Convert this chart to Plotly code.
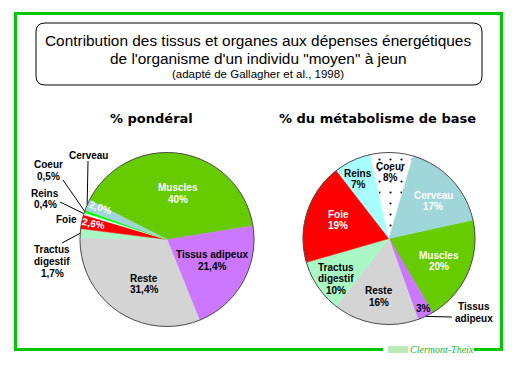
import math
import plotly.graph_objects as go

# ---------------- data ----------------
categories = ["Muscles", "Tissus adipeux", "Reste", "Tractus digestif",
              "Foie", "Reins", "Coeur", "Cerveau"]
weight_pct = [40.0, 21.4, 31.4, 1.7, 2.6, 0.4, 0.5, 2.0]      # % pondéral
bmr_pct = [20, 3, 16, 10, 19, 7, 8, 17]                        # % du métabolisme de base
weight_labels = ["40%", "21,4%", "31,4%", "1,7%", "2,6%", "0,4%", "0,5%", "2,0%"]
bmr_labels = ["20%", "3%", "16%", "10%", "19%", "7%", "8%", "17%"]

# ---------------- styles ----------------
W, H = 518, 367
GREEN = "#00C800"
LAB = "Liberation Sans, Arial, sans-serif"
colors_left = ["#66CC00", "#CC77FF", "#D4D4D4", "#A9F7C4", "#FF0000", "#FFFFFF", "#00FF00", "#9ED6DA"]
colors_right = ["#66CC00", "#CC77FF", "#D4D4D4", "#A9F7C4", "#FF0000", "#A8FFFF", "#FFFFFF", "#9ED6DA"]
pattern_right = ["", "", "", "", "", "", ".", ""]

GL = dict(cx=167, cy=239.5, r=87, rot=-63)
GR = dict(cx=389, cy=238.5, r=86, rot=77.5)


def px(x):
    return x / W


def py(y):
    return 1 - y / H


def domain(g):
    return dict(x=[px(g["cx"] - g["r"]), px(g["cx"] + g["r"])],
                y=[py(g["cy"] + g["r"]), py(g["cy"] - g["r"])])


def rim(g, values, idx, k=1.0):
    tot = sum(values)
    a = g["rot"] + 360 * (sum(values[:idx]) + values[idx] / 2) / tot
    a = math.radians(a)
    return g["cx"] + k * g["r"] * math.sin(a), g["cy"] - k * g["r"] * math.cos(a)


fig = go.Figure()

fig.add_trace(go.Pie(
    labels=categories, values=weight_pct, sort=False, direction="clockwise",
    rotation=GL["rot"], textinfo="none", showlegend=False, hoverinfo="label+value",
    marker=dict(colors=colors_left, line=dict(color=colors_left, width=0.5)),
    domain=domain(GL)))

fig.add_trace(go.Pie(
    labels=categories, values=bmr_pct, sort=False, direction="clockwise",
    rotation=GR["rot"], textinfo="none", showlegend=False, hoverinfo="label+value",
    marker=dict(colors=colors_right, line=dict(color=colors_right, width=0.5),
                pattern=dict(shape=pattern_right, fgcolor="black", size=11, solidity=0.03)),
    domain=domain(GR)))

shapes = []
annotations = []


def text_block(lines, x, y, color="black", size=10, spacing=11.5, angle=0,
               family=LAB, bold=True):
    n = len(lines)
    for i, t in enumerate(lines):
        yy = y + (i - (n - 1) / 2) * spacing
        annotations.append(dict(
            x=px(x), y=py(yy), xref="paper", yref="paper", showarrow=False,
            text=f"<b>{t}</b>" if bold else t, textangle=angle,
            font=dict(family=family, size=size, color=color),
            xanchor="center", yanchor="middle"))


def leader(x0, y0, x1, y1):
    shapes.append(dict(type="line", xref="paper", yref="paper",
                       x0=px(x0), y0=py(y0), x1=px(x1), y1=py(y1),
                       line=dict(color="black", width=1)))


# ---------------- left pie labels ----------------
text_block([categories[0], weight_labels[0]], 178, 193.5, color="white")
text_block(["Tissus adipeux", weight_labels[1]], 212, 260.5)
text_block([categories[2], weight_labels[2]], 144, 284)
text_block([weight_labels[7]], 100, 207.5, color="white", angle=18)
text_block([weight_labels[4]], 93, 223.5, color="white", angle=11)

text_block(["Cerveau"], 88, 155)
leader(88, 161, *rim(GL, weight_pct, 7))
text_block(["Coeur", weight_labels[6]], 48, 170.5)
leader(63, 180, *rim(GL, weight_pct, 6))
text_block(["Reins", weight_labels[5]], 45, 199)
leader(60, 202, *rim(GL, weight_pct, 5))
text_block(["Foie"], 66, 219)
text_block(["Tractus", "digestif", weight_labels[3]], 52, 261.5)
leader(62, 243, *rim(GL, weight_pct, 3))

# ---------------- right pie labels ----------------
text_block([categories[7], bmr_labels[7]], 433, 201, color="white")
text_block([categories[0], bmr_labels[0]], 439, 261, color="white")
text_block([categories[4], bmr_labels[4]], 338, 220, color="white")
text_block([categories[5], bmr_labels[5]], 358, 179)
text_block([categories[6], bmr_labels[6]], 390, 172)
text_block(["Tractus", "digestif", bmr_labels[3]], 336, 278.5)
text_block([categories[2], bmr_labels[2]], 379, 296.5)
text_block([bmr_labels[1]], 423, 308.5)
text_block(["Tissus", "adipeux"], 474, 312.5)
tx, ty = rim(GR, bmr_pct, 1)
leader(tx, ty, 452, 317)

# ---------------- pie outlines ----------------
for g in (GL, GR):
    shapes.append(dict(type="circle", xref="paper", yref="paper",
                       x0=px(g["cx"] - g["r"]), x1=px(g["cx"] + g["r"]),
                       y0=py(g["cy"] + g["r"]), y1=py(g["cy"] - g["r"]),
                       line=dict(color="#4d4d4d", width=1), layer="above"))

# ---------------- titles ----------------
text_block(["% pondéral"], 151, 118.5, size=13, family="DejaVu Sans, Verdana, sans-serif")
text_block(["% du métabolisme de base"], 377, 118.5, size=13,
           family="DejaVu Sans, Verdana, sans-serif")

text_block(["Contribution des tissus et organes aux dépenses énergétiques"], 258, 40.5,
           size=15.4, bold=False)
text_block(["de l'organisme d'un individu \"moyen\" à jeun"], 258, 58, size=15.4, bold=False)
text_block(["(adapté de Gallagher et al., 1998)"], 258, 74.5, size=11.5, bold=False)

# rounded title box
bx0, by0, bx1, by1, rr = 36, 23, 482, 85, 9
pts = (f"M {px(bx0 + rr)},{py(by0)} L {px(bx1 - rr)},{py(by0)} "
       f"Q {px(bx1)},{py(by0)} {px(bx1)},{py(by0 + rr)} L {px(bx1)},{py(by1 - rr)} "
       f"Q {px(bx1)},{py(by1)} {px(bx1 - rr)},{py(by1)} L {px(bx0 + rr)},{py(by1)} "
       f"Q {px(bx0)},{py(by1)} {px(bx0)},{py(by1 - rr)} L {px(bx0)},{py(by0 + rr)} "
       f"Q {px(bx0)},{py(by0)} {px(bx0 + rr)},{py(by0)} Z")
shapes.append(dict(type="path", xref="paper", yref="paper", path=pts,
                   line=dict(color="black", width=1), fillcolor="rgba(0,0,0,0)"))

# green frame with gap for the logo
frame = (f"M {px(383)},{py(349.5)} L {px(15.5)},{py(349.5)} L {px(15.5)},{py(13.5)} "
         f"L {px(501.5)},{py(13.5)} L {px(501.5)},{py(349.5)} L {px(474)},{py(349.5)}")
shapes.append(dict(type="path", xref="paper", yref="paper", path=frame,
                   line=dict(color=GREEN, width=3), fillcolor="rgba(0,0,0,0)"))

# logo
shapes.append(dict(type="rect", xref="paper", yref="paper",
                   x0=px(388), x1=px(408), y0=py(353), y1=py(346),
                   fillcolor="#B8EBB8", line=dict(width=0)))
text_block(["Clermont-Theix"], 442, 349.5, size=10, color="#22B822", bold=False,
           family="Liberation Serif, Times New Roman, serif")
annotations[-1]["text"] = "<i>Clermont-Theix</i>"

fig.update_layout(
    width=W, height=H, margin=dict(l=0, r=0, t=0, b=0),
    paper_bgcolor="white", plot_bgcolor="white",
    shapes=shapes, annotations=annotations, showlegend=False)

fig.write_html("out.html", config={"displayModeBar": False},
               post_script="document.body.style.margin='0';")
